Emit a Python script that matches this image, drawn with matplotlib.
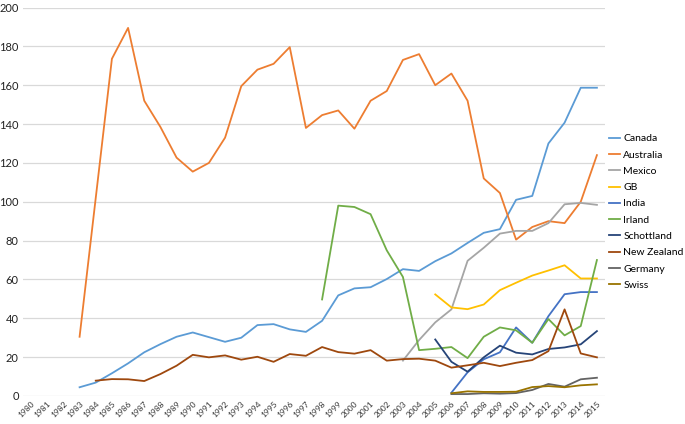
import numpy as np
import matplotlib.pyplot as plt

plt.rcParams['font.family'] = ['Lato', 'DejaVu Sans']

years = list(range(1980, 2016))

# values per series, first year given separately
canada_start = 1983
canada = [4.5, 6.9, 11.7, 16.8, 22.5, 26.7, 30.5, 32.7, 30.3, 27.9, 30.0, 36.5, 37.0,
          34.3, 33.0, 38.7, 51.8, 55.4, 56.0, 60.2, 65.3, 64.4, 69.4, 73.4, 78.8,
          84.0, 85.9, 101.0, 103.0, 130.0, 140.7, 158.7, 158.7]
australia_start = 1983
australia = [30.5, 102.0, 173.6, 189.5, 152.0, 138.5, 122.7, 115.5, 120.0, 133.0,
             159.5, 168.0, 171.0, 179.6, 138.0, 144.6, 147.0, 137.6, 152.0, 157.0,
             173.0, 176.0, 160.0, 166.0, 152.0, 112.0, 104.5, 80.5, 87.0, 90.0, 89.0,
             100.0, 124.0]
mexico_start = 2003
mexico = [18.2, 28.8, 37.9, 44.6, 69.6, 76.3, 83.6, 85.0, 85.0, 89.0, 98.7, 99.4, 98.4]
gb_start = 2005
gb = [52.3, 45.6, 44.7, 47.1, 54.5, 58.3, 62.0, 64.6, 67.3, 60.5, 60.5]
india_start = 2006
india = [1.7, 12.2, 18.9, 22.5, 35.3, 27.4, 41.1, 52.4, 53.5, 53.5]
irland_start = 1998
irland = [49.7, 98.0, 97.3, 93.6, 75.0, 61.3, 23.6, 24.3, 25.2, 19.5, 30.5, 35.3,
          33.8, 27.4, 39.6, 31.2, 36.0, 70.0]
schottland_start = 2005
schottland = [29.1, 17.6, 12.5, 19.9, 25.9, 22.3, 21.4, 24.2, 25.0, 26.6, 33.4]
nz_start = 1984
new_zealand = [7.9, 8.7, 8.6, 7.7, 11.3, 15.6, 21.2, 19.9, 20.9, 18.7, 20.2, 17.6,
               21.6, 20.7, 25.2, 22.6, 21.8, 23.6, 18.2, 19.0, 19.2, 18.2, 14.6, 15.8,
               17.1, 15.4, 17.1, 18.5, 23.1, 44.6, 21.9, 19.9]
germany_start = 2006
germany = [1.0, 1.0, 1.4, 1.2, 1.5, 3.1, 6.2, 4.8, 8.6, 9.4]
swiss_start = 2006
swiss = [1.4, 2.4, 2.1, 2.1, 2.2, 4.6, 5.1, 4.5, 5.5, 6.0]

series = [
    ("Canada", canada_start, canada, "#5B9BD5"),
    ("Australia", australia_start, australia, "#ED7D31"),
    ("Mexico", mexico_start, mexico, "#A5A5A5"),
    ("GB", gb_start, gb, "#FFC000"),
    ("India", india_start, india, "#4472C4"),
    ("Irland", irland_start, irland, "#70AD47"),
    ("Schottland", schottland_start, schottland, "#264478"),
    ("New Zealand", nz_start, new_zealand, "#9E480E"),
    ("Germany", germany_start, germany, "#636363"),
    ("Swiss", swiss_start, swiss, "#997300"),
]

fig = plt.figure(figsize=(6.85, 4.24), dpi=100)
ax = fig.add_axes([23 / 685, 1 - 396 / 424, 582 / 685, (396 - 7.5) / 424])

for name, start, vals, col in series:
    i0 = years.index(start)
    xs = np.arange(i0, i0 + len(vals))
    ax.plot(xs, vals, color=col, lw=1.3, label=name)

ax.set_xlim(-0.5, len(years) - 0.5)
ax.set_ylim(0, 200)
ax.set_yticks(range(0, 201, 20))
ax.set_xticks(range(len(years)))
ax.set_xticklabels([str(y) for y in years], rotation=45, fontsize=6,
                   ha="right", rotation_mode="anchor")
ax.tick_params(axis="y", labelsize=8, length=0, pad=3, colors="#222222")
ax.tick_params(axis="x", length=0, pad=3, colors="#333333")
ax.grid(axis="y", color="#D9D9D9", lw=0.9)
ax.set_axisbelow(True)
for s in ax.spines.values():
    s.set_visible(False)

ax.legend(loc="upper left", bbox_to_anchor=(1.0, 0.685), frameon=False,
          fontsize=7.5, handlelength=1.0, handletextpad=0.35, labelspacing=0.67,
          borderaxespad=0)

plt.savefig("out.png", dpi=100)
